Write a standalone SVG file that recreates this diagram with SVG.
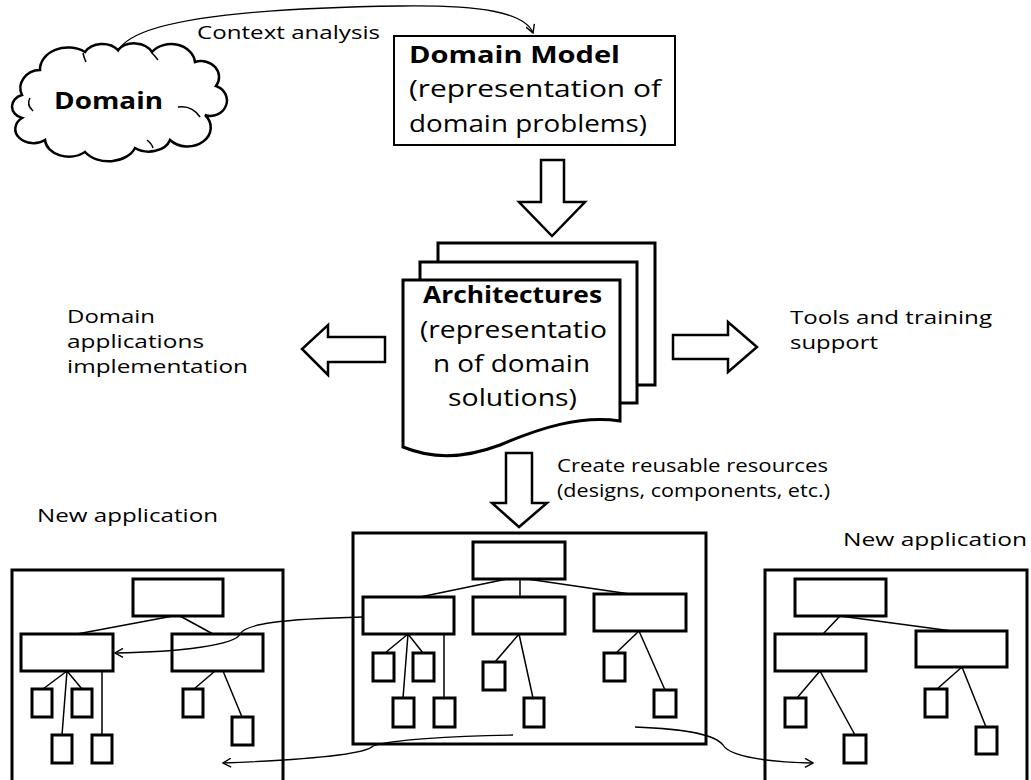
<svg xmlns="http://www.w3.org/2000/svg" width="1031" height="780" viewBox="0 0 1031 780">
<style>
text{font-family:"Open Sans","Liberation Sans",sans-serif;fill:#000}
.t{font-size:19px}
.b{font-size:23px}
.bb{font-size:23px;font-weight:bold}
.box{fill:#fff;stroke:#000;stroke-width:3}
.sm{fill:#fff;stroke:#000;stroke-width:3}
.ln{fill:none;stroke:#000;stroke-width:1.5}
.blk{fill:#fff;stroke:#000;stroke-width:2.5;stroke-linejoin:miter}
.cv{fill:none;stroke:#000;stroke-width:1.3}
</style>
<defs>
<marker id="v" viewBox="0 0 10 10" refX="9" refY="5" markerWidth="10" markerHeight="10" markerUnits="userSpaceOnUse" orient="auto">
<path d="M1,0.5 L9,5 L1,9.5" fill="none" stroke="#000" stroke-width="1.4"/>
</marker>
</defs>
<rect width="1031" height="780" fill="#fff"/>

<g id="domain">
<path d="M22,95 A20,18 0 0 1 40,70 A28,22 0 0 1 85,52 A20,16 0 0 1 118,50 A20,16 0 0 1 152,52 A24,20 0 0 1 195,62 A18,16 0 0 1 216,86 A16,15 0 0 1 205,115 A22,18 0 0 1 170,140 A22,16 0 0 1 135,148 A28,20 0 0 1 85,152 A24,18 0 0 1 45,140 A18,14 0 0 1 22,118 A14,12 0 0 1 22,95 Z" fill="#fff" stroke="#000" stroke-width="2.5"/>
<path d="M33,111 Q26,105 30,98" class="ln" stroke-width="2"/>
<path d="M83,53 Q84,58 86,62" class="ln" stroke-width="2"/>
<path d="M152,53 Q155,56 158,60" class="ln" stroke-width="2"/>
<path d="M178,107 Q192,105 200,117" class="ln" stroke-width="2"/>
<path d="M147,140 Q152,144 153,148" class="ln" stroke-width="2"/>
<text class="bb" x="54" y="109" textLength="109" lengthAdjust="spacingAndGlyphs">Domain</text>
</g>

<g id="context-label">
<text class="t" x="197" y="39" textLength="183" lengthAdjust="spacingAndGlyphs">Context analysis</text>
</g>

<g id="domain-model">
<rect x="394" y="36" width="281" height="109" fill="#fff" stroke="#000" stroke-width="2"/>
<text class="bb" x="409" y="63" textLength="211" lengthAdjust="spacingAndGlyphs">Domain Model</text>
<text class="b" x="409" y="97" textLength="252" lengthAdjust="spacingAndGlyphs">(representation of</text>
<text class="b" x="409" y="132" textLength="238" lengthAdjust="spacingAndGlyphs">domain problems)</text>
</g>

<g id="architectures">
<rect x="438" y="243" width="217" height="142" class="box"/>
<rect x="420" y="262" width="217" height="141" class="box"/>
<path d="M403,280 L620,280 L620,421 C580,415 540,428 500,445 C460,460 430,458 403,447 Z" class="box"/>
<text class="bb" x="423" y="303" textLength="179" lengthAdjust="spacingAndGlyphs">Architectures</text>
<text class="b" x="420" y="338" textLength="187" lengthAdjust="spacingAndGlyphs">(representatio</text>
<text class="b" x="433" y="372" textLength="157" lengthAdjust="spacingAndGlyphs">n of domain</text>
<text class="b" x="448" y="406" textLength="129" lengthAdjust="spacingAndGlyphs">solutions)</text>
</g>

<g id="label-left">
<text class="t" x="67" y="323" textLength="88" lengthAdjust="spacingAndGlyphs">Domain</text>
<text class="t" x="67" y="348" textLength="137" lengthAdjust="spacingAndGlyphs">applications</text>
<text class="t" x="67" y="373" textLength="181" lengthAdjust="spacingAndGlyphs">implementation</text>
</g>

<g id="label-right">
<text class="t" x="790" y="324" textLength="202" lengthAdjust="spacingAndGlyphs">Tools and training</text>
<text class="t" x="790" y="349" textLength="88" lengthAdjust="spacingAndGlyphs">support</text>
</g>

<g id="label-create">
<text class="t" x="557" y="472" textLength="271" lengthAdjust="spacingAndGlyphs">Create reusable resources</text>
<text class="t" x="557" y="497" textLength="273" lengthAdjust="spacingAndGlyphs">(designs, components, etc.)</text>
</g>

<g id="label-newapp-left">
<text class="t" x="37" y="522" textLength="181" lengthAdjust="spacingAndGlyphs">New application</text>
</g>
<g id="label-newapp-right">
<text class="t" x="843" y="546" textLength="184" lengthAdjust="spacingAndGlyphs">New application</text>
</g>

<g id="app-left">
<rect x="12" y="570" width="271" height="230" class="box"/>
<rect x="133" y="579" width="90" height="37" class="sm"/>
<rect x="21" y="634" width="92" height="37" class="sm"/>
<rect x="172" y="634" width="91" height="37" class="sm"/>
<rect x="32" y="689" width="20" height="28" class="sm"/>
<rect x="72" y="689" width="20" height="28" class="sm"/>
<rect x="52" y="735" width="20" height="28" class="sm"/>
<rect x="92" y="735" width="20" height="28" class="sm"/>
<rect x="183" y="689" width="20" height="28" class="sm"/>
<rect x="232" y="717" width="21" height="28" class="sm"/>
<path class="ln" d="M173,616 L77,634 M180,616 L213,634 M67,671 L43,689 M67,671 L82,689 M67,671 L62,735 M102,671 L102,735 M215,671 L194,689 M223,671 L242,717"/>
</g>

<g id="app-center">
<rect x="353" y="533" width="353" height="211" class="box"/>
<rect x="473" y="542" width="92" height="37" class="sm"/>
<rect x="363" y="597" width="91" height="37" class="sm"/>
<rect x="473" y="597" width="92" height="37" class="sm"/>
<rect x="594" y="594" width="92" height="37" class="sm"/>
<rect x="373" y="653" width="21" height="28" class="sm"/>
<rect x="413" y="653" width="21" height="28" class="sm"/>
<rect x="393" y="698" width="21" height="29" class="sm"/>
<rect x="434" y="698" width="21" height="29" class="sm"/>
<rect x="483" y="662" width="22" height="28" class="sm"/>
<rect x="524" y="698" width="20" height="29" class="sm"/>
<rect x="604" y="653" width="21" height="28" class="sm"/>
<rect x="654" y="690" width="22" height="27" class="sm"/>
<path class="ln" d="M507,579 L420,597 M520,579 L520,597 M527,579 L630,594 M408,634 L385,653 M408,634 L423,653 M408,634 L403,698 M444,634 L444,698 M519,634 L495,662 M519,634 L533,698 M639,631 L616,653 M639,631 L665,690"/>
</g>

<g id="app-right">
<rect x="765" y="570" width="262" height="230" class="box"/>
<rect x="795" y="579" width="91" height="37" class="sm"/>
<rect x="775" y="634" width="91" height="37" class="sm"/>
<rect x="916" y="631" width="91" height="36" class="sm"/>
<rect x="785" y="698" width="21" height="29" class="sm"/>
<rect x="844" y="735" width="22" height="28" class="sm"/>
<rect x="925" y="689" width="22" height="28" class="sm"/>
<rect x="976" y="727" width="21" height="27" class="sm"/>
<path class="ln" d="M840,616 L823,634 M840,616 L952,631 M820,671 L797,698 M820,671 L855,735 M962,667 L937,689 M962,667 L986,727"/>
</g>

<g id="connectors">
<path class="cv" d="M118,52 C130,20 250,8 400,6 C480,5 525,12 533,33" marker-end="url(#v)"/>
<polygon class="blk" points="541,160 564,160 564,202 585,202 552,236 519,202 541,202"/>
<polygon class="blk" points="506,453 532,453 532,503 547,503 519,527 492,503 506,503"/>
<polygon class="blk" points="385,337 328,337 328,325 302,349 328,375 328,362 385,362"/>
<polygon class="blk" points="673,335 728,335 728,322 757,347 728,372 728,359 673,359"/>
<path class="cv" d="M363,617 C280,619 245,624 240,634 C236,645 180,652 115,653" marker-end="url(#v)"/>
<path class="cv" d="M513,735 C450,736 390,740 373,746 C365,755 300,760 223,763" marker-end="url(#v)"/>
<path class="cv" d="M635,727 C690,729 715,735 723,745 C730,757 770,762 813,763" marker-end="url(#v)"/>
</g>
</svg>
